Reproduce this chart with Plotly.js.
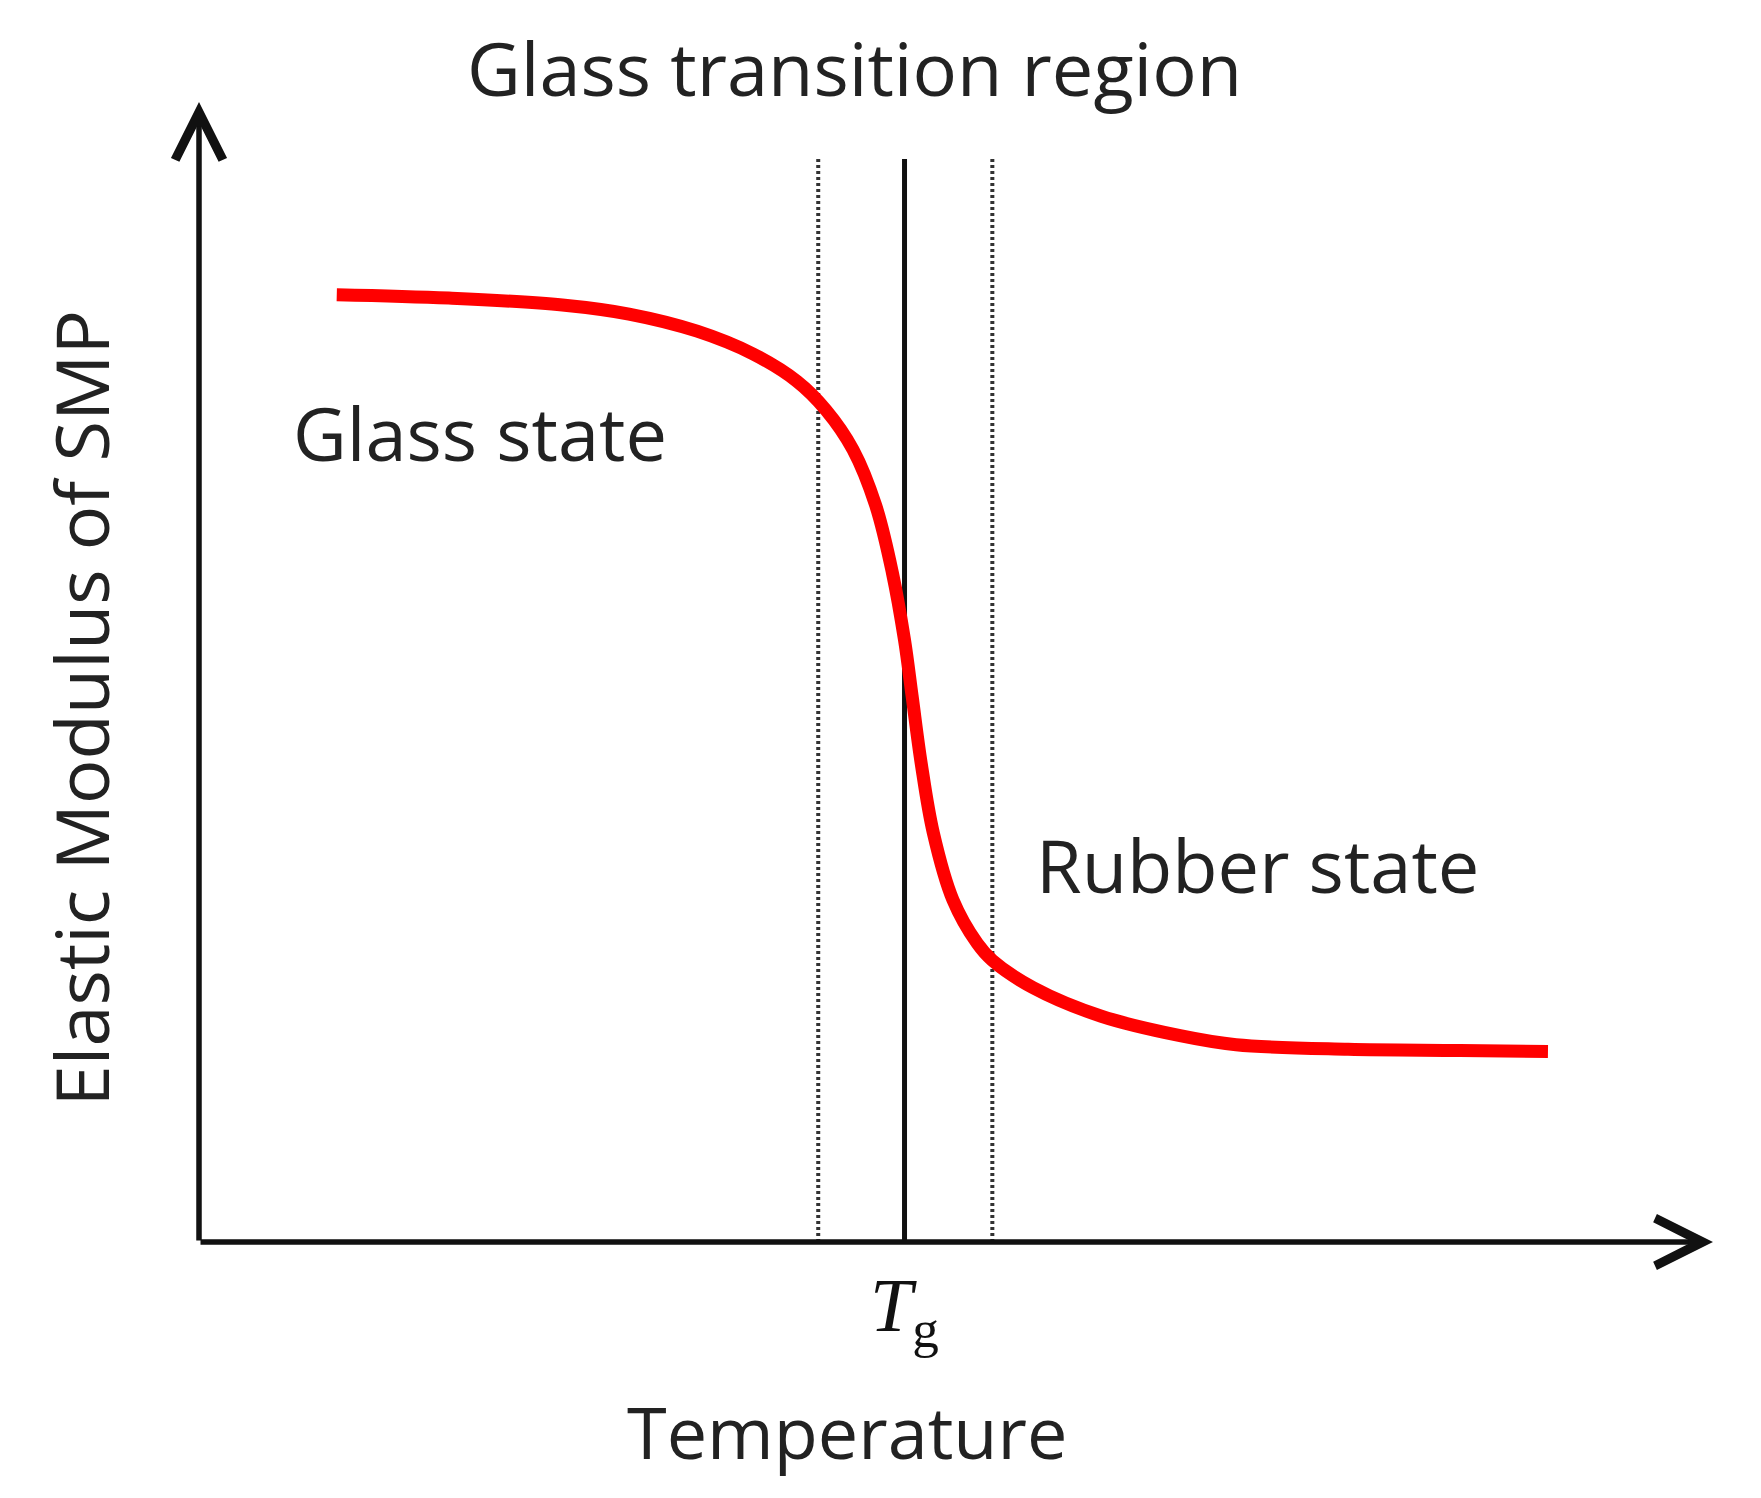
<!DOCTYPE html>
<html>
<head>
<meta charset="utf-8">
<script src="https://cdn.plot.ly/plotly-3.0.1.min.js"></script>
<style>html,body{margin:0;padding:0;background:#fff;}#chart{width:1761px;height:1498px;}</style>
</head>
<body>
<div id="chart"></div>
<script>
// Temperature (arbitrary units) and elastic modulus (arbitrary units)
const temperature = [9.1, 16.5, 24.0, 28.4, 32.9, 36.6, 39.5, 41.4, 43.2, 44.7, 45.8, 46.6, 47.1, 47.7, 48.5, 49.8, 51.4, 52.4, 55.1, 59.6, 64.8, 68.5, 75.9, 83.3, 89.1];
const modulus     = [83.1, 82.8, 82.2, 81.4, 79.9, 77.9, 75.5, 73.0, 69.5, 64.6, 58.7, 52.8, 47.9, 42.0, 35.9, 30.0, 26.2, 24.7, 22.3, 19.8, 18.1, 17.3, 16.9, 16.8, 16.7];
const Tg = 46.6;
const transitionStart = 40.9;
const transitionEnd = 52.4;
const markerTop = 95;
const tickLabels = ['<i>T</i><sub>g</sub>'];
const texts = {
  title: 'Glass transition region',
  glass: 'Glass state',
  rubber: 'Rubber state',
  xTitle: 'Temperature',
  yTitle: 'Elastic Modulus of SMP'
};

const textFont = {family: 'Open Sans', size: 74, color: '#222'};

const traces = [
  {x: [transitionStart, transitionStart], y: [0, markerTop], mode: 'lines',
   line: {color: '#333', width: 4, dash: '3px,3px'}, hoverinfo: 'skip'},
  {x: [transitionEnd, transitionEnd], y: [0, markerTop], mode: 'lines',
   line: {color: '#333', width: 4, dash: '3px,3px'}, hoverinfo: 'skip'},
  {x: [Tg, Tg], y: [0, markerTop], mode: 'lines',
   line: {color: '#111', width: 5}, hoverinfo: 'skip'},
  {x: temperature, y: modulus, mode: 'lines',
   line: {color: 'rgb(255,0,0)', width: 13, shape: 'spline', smoothing: 1}, hoverinfo: 'skip'}
];

const layout = {
  width: 1761, height: 1498,
  margin: {l: 199, r: 48, t: 102, b: 256, pad: 0},
  paper_bgcolor: '#fff', plot_bgcolor: '#fff',
  showlegend: false,
  xaxis: {range: [0, 100], showgrid: false, zeroline: false, showline: false,
          tickvals: [Tg], ticktext: tickLabels, ticks: '', ticklabelstandoff: 12,
          tickfont: {family: 'Liberation Serif', size: 76, color: '#111'}, fixedrange: true},
  yaxis: {range: [0, 100], showgrid: false, zeroline: false, showline: false,
          showticklabels: false, ticks: '', fixedrange: true},
  annotations: [
    // axes with arrows
    {x: 100, y: 0, ax: 0, ay: 0, xref: 'x', yref: 'y', axref: 'x', ayref: 'y',
     text: '', showarrow: true, arrowhead: 5, arrowwidth: 5.5, arrowsize: 1.7, arrowcolor: '#111'},
    {x: 0, y: 100, ax: 0, ay: 0, xref: 'x', yref: 'y', axref: 'x', ayref: 'y',
     text: '', showarrow: true, arrowhead: 5, arrowwidth: 5.5, arrowsize: 1.7, arrowcolor: '#111'},
    {x: 0.433, y: 1.03, xref: 'paper', yref: 'paper', xanchor: 'center', yanchor: 'middle',
     text: texts.title, showarrow: false, font: textFont},
    {x: 18.56, y: 71.05, xref: 'x', yref: 'y', xanchor: 'center', yanchor: 'middle',
     text: texts.glass, showarrow: false, font: textFont},
    {x: 69.9, y: 33.1, xref: 'x', yref: 'y', xanchor: 'center', yanchor: 'middle',
     text: texts.rubber, showarrow: false, font: textFont},
    {x: 0.428, y: -0.166, xref: 'paper', yref: 'paper', xanchor: 'center', yanchor: 'middle',
     text: texts.xTitle, showarrow: false, font: {family: 'Open Sans', size: 72, color: '#222'}},
    {x: -0.078, y: 0.468, xref: 'paper', yref: 'paper', xanchor: 'center', yanchor: 'middle',
     text: texts.yTitle, showarrow: false, font: textFont, textangle: -90}
  ]
};

Plotly.newPlot('chart', traces, layout, {staticPlot: true, displayModeBar: false});
</script>
</body>
</html>
